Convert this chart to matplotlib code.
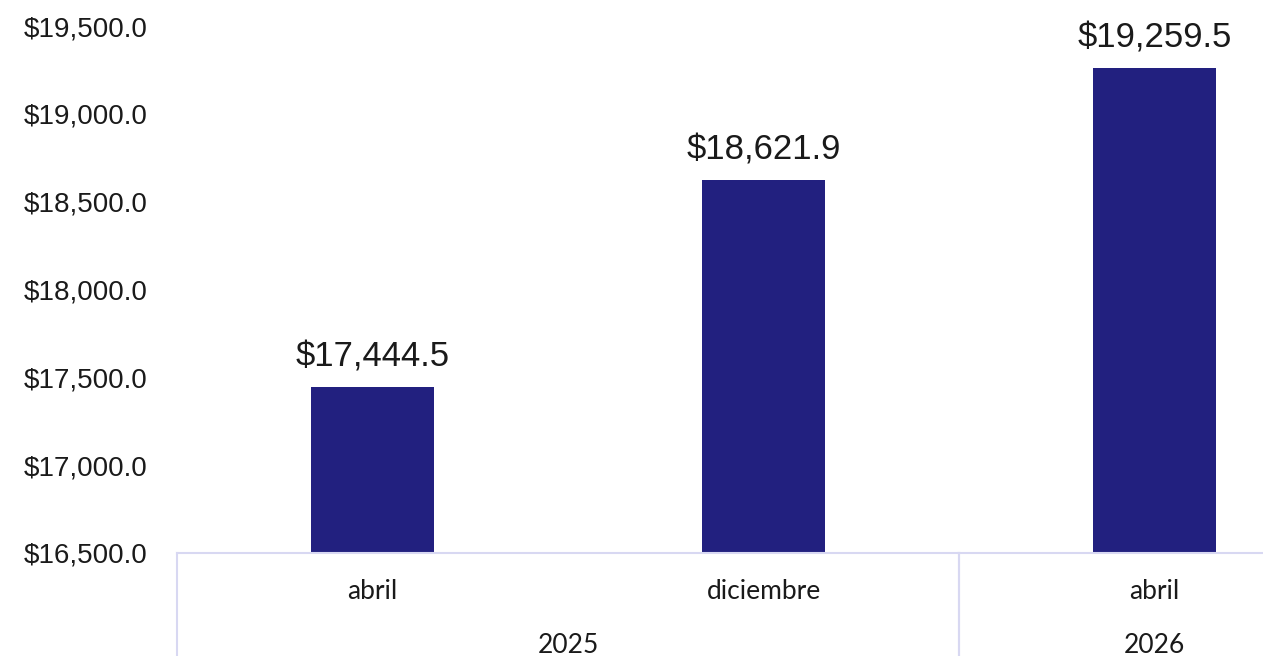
import matplotlib.pyplot as plt
from matplotlib.ticker import FuncFormatter

months = ["abril", "diciembre", "abril"]
years = ["2025", "2026"]
year_spans = [(0, 1), (2, 2)]  # first and last category index of each year
values = [17444.5, 18621.9, 19259.5]
y_ticks = [16500, 17000, 17500, 18000, 18500, 19000, 19500]

bar_color = "#22207F"
line_color = "#D8D8F2"

fig = plt.figure(figsize=(12.63, 6.56), dpi=100)
# axes goes a bit past the right edge, like the cropped original
ax = fig.add_axes([177 / 1263, 103 / 656, 1173 / 1263, 527 / 656])

x = list(range(len(values)))
bars = ax.bar(x, values, width=0.315, color=bar_color, zorder=2)

ax.set_xlim(-0.5, len(values) - 0.5)
ax.set_ylim(y_ticks[0], y_ticks[-1])
ax.set_yticks(y_ticks)
ax.yaxis.set_major_formatter(FuncFormatter(lambda v, p: f"${v:,.1f}"))
for lab in ax.get_yticklabels():
    lab.set_fontfamily("Liberation Sans")
    lab.set_fontsize(20)
    lab.set_color("#1a1a1a")
ax.tick_params(axis="y", length=0, pad=21)
ax.set_xticks([])

for s in ["top", "right", "left"]:
    ax.spines[s].set_visible(False)
ax.spines["bottom"].set_color(line_color)
ax.spines["bottom"].set_linewidth(1.5)

# value labels
for xi, v in zip(x, values):
    ax.annotate(f"${v:,.1f}", (xi, v), xytext=(0, 10), textcoords="offset points",
                ha="center", va="bottom", fontsize=25, family="Liberation Sans",
                color="#1a1a1a")

# two-level category axis
tr = ax.get_xaxis_transform()
for xi, m in zip(x, months):
    ax.text(xi, -0.074, m, transform=tr, ha="center", va="center",
            fontsize=19, family="Lato", color="#1a1a1a")
for yr, (a, b) in zip(years, year_spans):
    ax.text((a + b) / 2, -0.175, yr, transform=tr, ha="center", va="center",
            fontsize=19, family="Lato", color="#1a1a1a")
    for edge in (a - 0.5, b + 0.5):
        ax.plot([edge, edge], [0, -0.3], transform=tr, color=line_color,
                lw=1.5, clip_on=False)

fig.savefig("out.png", dpi=100)
